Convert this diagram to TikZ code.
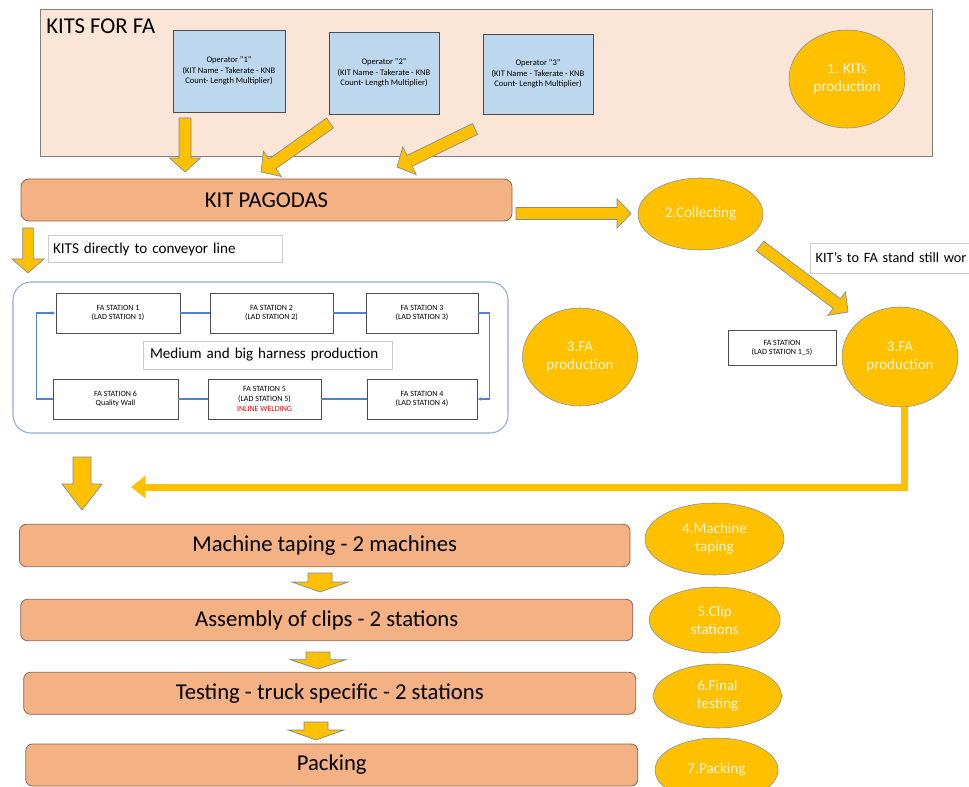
\documentclass[tikz,border=0pt]{standalone}
\usepackage{fontspec}
\setmainfont{Carlito}
\usepackage{xcolor}
\usetikzlibrary{calc,shapes.geometric,arrows.meta}

\definecolor{kitsbg}{HTML}{FBE5D6}
\definecolor{opblue}{HTML}{BDD7EE}
\definecolor{goldc}{HTML}{FFC000}
\definecolor{peach}{HTML}{F4B183}
\definecolor{barline}{HTML}{8C6450}
\definecolor{ellline}{HTML}{7F8A99}
\definecolor{elltext}{HTML}{FFF4D6}
\definecolor{loopblue}{HTML}{4F81D8}
\definecolor{frameblue}{HTML}{8FAADC}

\tikzset{
  opbox/.style={draw=black!70, fill=opblue, line width=0.7pt, align=center,
    font=\fontsize{6.4}{7.8}\selectfont},
  ellnode/.style={ellipse, draw=ellline, fill=goldc, inner sep=0pt, align=center,
    text=elltext, font=\fontsize{11.3}{13.5}\selectfont},
  bar/.style={draw=barline, fill=peach, rounded corners=5pt, line width=0.6pt,
    font=\fontsize{17}{20}\selectfont},
  station/.style={draw=black!70, fill=white, line width=0.7pt, align=center,
    font=\fontsize{6}{7.4}\selectfont},
  notebox/.style={draw=black!20, fill=white, align=left, inner xsep=4pt,
    font=\fontsize{11.3}{13.5}\selectfont},
  blockarr/.style={fill=goldc, draw=ellline, line width=0.5pt},
  loopline/.style={draw=loopblue, line width=0.8pt},
  flowline/.style={goldc, line width=5.25pt, -{Triangle[length=11pt,width=16.5pt]}}
}

% block arrow: tail, tip, shaft half width, head half width, head length
\newcommand{\blockarrow}[5]{%
  \coordinate (ba-c) at ($(#2)!#5!(#1)$);
  \filldraw[blockarr] ($(#1)!#3!90:(#2)$) -- ($(ba-c)!#3!-90:(#1)$)
    -- ($(ba-c)!#4!-90:(#1)$) -- (#2) -- ($(ba-c)!#4!90:(#1)$)
    -- ($(ba-c)!#3!90:(#1)$) -- ($(#1)!#3!-90:(#2)$) -- cycle;
}

\begin{document}
\begin{tikzpicture}[x=0.75pt, y=-0.75pt]
    \useasboundingbox (0,0) rectangle (969,787);
    \fill[white] (0,0) rectangle (969,787);

    % Kits area
    \node[draw=black!50, fill=kitsbg, minimum width=669pt, minimum height=110.25pt] (kits) at (486,82.5) {};
    \node[anchor=base west, inner sep=0pt, font=\fontsize{17}{20}\selectfont] (kitstitle) at (46,34) {KITS FOR FA};

    % Operators
    \node[opbox, minimum width=84pt, minimum height=61.5pt] (op1) at (229,71) {Operator "1"\\(KIT Name - Takerate - KNB\\Count- Length Multiplier)};
    \node[opbox, minimum width=82.5pt, minimum height=61.5pt] (op2) at (384,73) {Operator "2"\\(KIT Name - Takerate - KNB\\Count- Length Multiplier)};
    \node[opbox, minimum width=82.5pt, minimum height=60pt] (op3) at (538,74) {Operator "3"\\(KIT Name - Takerate - KNB\\Count- Length Multiplier)};
    \node[ellnode, minimum width=87pt, minimum height=73.5pt] (kitsprod) at (847,79) {1. KITs\\production};

    % Pagodas
    \node[bar, rounded corners=6pt, minimum width=368.25pt, minimum height=31.5pt] (pagodas) at (266.5,200) {KIT PAGODAS};
    \coordinate (k1s) at (185,118);
    \coordinate (k1e) at (185,172);
    \coordinate (k2s) at (330,123);
    \coordinate (k2e) at (261,172);
    \coordinate (k3s) at (475,129);
    \coordinate (k3e) at (397,167);
    \blockarrow{k1s}{k1e}{4.5pt}{11.6pt}{10.5pt}
    \blockarrow{k2s}{k2e}{4.5pt}{11.6pt}{10.5pt}
    \blockarrow{k3s}{k3e}{4.5pt}{11.6pt}{10.5pt}

    % Collecting
    \node[ellnode, minimum width=93.75pt, minimum height=54pt] (collect) at (700.5,214) {2.Collecting};
    \coordinate (c1s) at (516,213.5);
    \coordinate (c1e) at (631,213.5);
    \blockarrow{c1s}{c1e}{4.5pt}{11pt}{10.5pt}

    % Kits to conveyor line
    \coordinate (d1s) at (28,228);
    \coordinate (d1e) at (28,273);
    \blockarrow{d1s}{d1e}{4pt}{12pt}{10.5pt}
    \node[notebox, anchor=west, text width=168pt, minimum height=20.25pt] (direct) at (47.5,249) {KITS directly to conveyor line};

    % Conveyor line
    \node[draw=frameblue, line width=0.8pt, rounded corners=13.5pt, minimum width=371.25pt, minimum height=113.25pt] (line) at (260.5,357.5) {};
    \node[station, minimum width=93pt, minimum height=30pt] (fa1) at (118,313) {FA STATION 1\\(LAD STATION 1)};
    \node[station, minimum width=92.25pt, minimum height=30pt] (fa2) at (271.5,313) {FA STATION 2\\(LAD STATION 2)};
    \node[station, minimum width=84pt, minimum height=30pt] (fa3) at (422,313) {FA STATION 3\\(LAD STATION 3)};
    \node[station, minimum width=82.5pt, minimum height=30pt] (fa4) at (422,399) {FA STATION 4\\(LAD STATION 4)};
    \node[station, minimum width=84.75pt, minimum height=30pt] (fa5) at (264.5,399) {FA STATION 5\\(LAD STATION 5)\\\textcolor{red}{INLINE WELDING}};
    \node[station, minimum width=93.75pt, minimum height=30pt] (fa6) at (115.5,399) {FA STATION 6\\Quality Wall};
    \node[notebox, draw=black!20, text width=177pt, inner xsep=5pt, minimum height=21pt] (harness) at (268,355) {Medium and big harness production};
    \draw[loopline] (fa1.east) -- (fa2.west);
    \draw[loopline] (fa2.east) -- (fa3.west);
    \draw[loopline, -{Latex[length=3pt,width=3pt]}] (fa3.east) -- ++(11,0) |- (fa4.east);
    \draw[loopline] (fa4.west) -- (fa5.east);
    \draw[loopline] (fa5.west) -- (fa6.east);
    \draw[loopline, -{Latex[length=3pt,width=3pt]}] (fa6.west) -- ++(-16,0) |- (fa1.west);
    \node[ellnode, minimum width=86.25pt, minimum height=73.5pt] (faprodl) at (580,357) {3.FA\\production};

    % Stand still work
    \node[notebox, anchor=west, text width=160pt, minimum height=22.5pt, font=\fontsize{10.7}{13}\selectfont] (standnote) at (810,258) {KIT's to FA stand still wor};
    \coordinate (c2s) at (760,246);
    \coordinate (c2e) at (848,312);
    \blockarrow{c2s}{c2e}{4.5pt}{11pt}{10.5pt}
    \node[station, minimum width=81pt, minimum height=26.25pt] (fasingle) at (782,348) {FA STATION\\(LAD STATION 1\_5)};
    \node[ellnode, minimum width=87pt, minimum height=75pt] (faprodr) at (900,357) {3.FA\\production};

    % Merge into taping
    \coordinate (mergein) at (131,487);
    \draw[flowline] ([xshift=3pt]faprodr.south) |- (mergein);
    \coordinate (bigs) at (82,457);
    \coordinate (bige) at (82,510);
    \blockarrow{bigs}{bige}{6.75pt}{15pt}{19.5pt}

    % Final steps
    \node[bar, minimum width=457.9pt, minimum height=31.8pt] (taping) at (324.75,545.5) {Machine taping - 2 machines};
    \node[bar, minimum width=459pt, minimum height=31pt] (clips) at (326.75,620) {Assembly of clips - 2 stations};
    \node[bar, minimum width=459pt, minimum height=31.5pt] (testing) at (329.7,693.3) {Testing - truck specific - 2 stations};
    \node[bar, minimum width=459pt, minimum height=31.5pt] (packing) at (331.75,765) {Packing};
    \coordinate (s1s) at (320,573);
    \coordinate (s1e) at (320,592);
    \coordinate (s2s) at (318,652);
    \coordinate (s2e) at (318,669);
    \coordinate (s3s) at (316,722);
    \coordinate (s3e) at (316,740);
    \blockarrow{s1s}{s1e}{9pt}{21pt}{7.5pt}
    \blockarrow{s2s}{s2e}{9pt}{21pt}{7pt}
    \blockarrow{s3s}{s3e}{9pt}{21pt}{7.5pt}

    % Step labels
    \node[ellnode, minimum width=104.25pt, minimum height=54pt] (e4) at (714.5,539) {4.Machine\\taping};
    \node[ellnode, minimum width=98.25pt, minimum height=49.5pt] (e5) at (714.7,620) {5.Clip\\stations};
    \node[ellnode, minimum width=96pt, minimum height=48pt] (e6) at (717.5,696) {6.Final\\testing};
    \node[ellnode, minimum width=92.25pt, minimum height=48pt] (e7) at (716.5,770) {7.Packing};
\end{tikzpicture}
\end{document}
